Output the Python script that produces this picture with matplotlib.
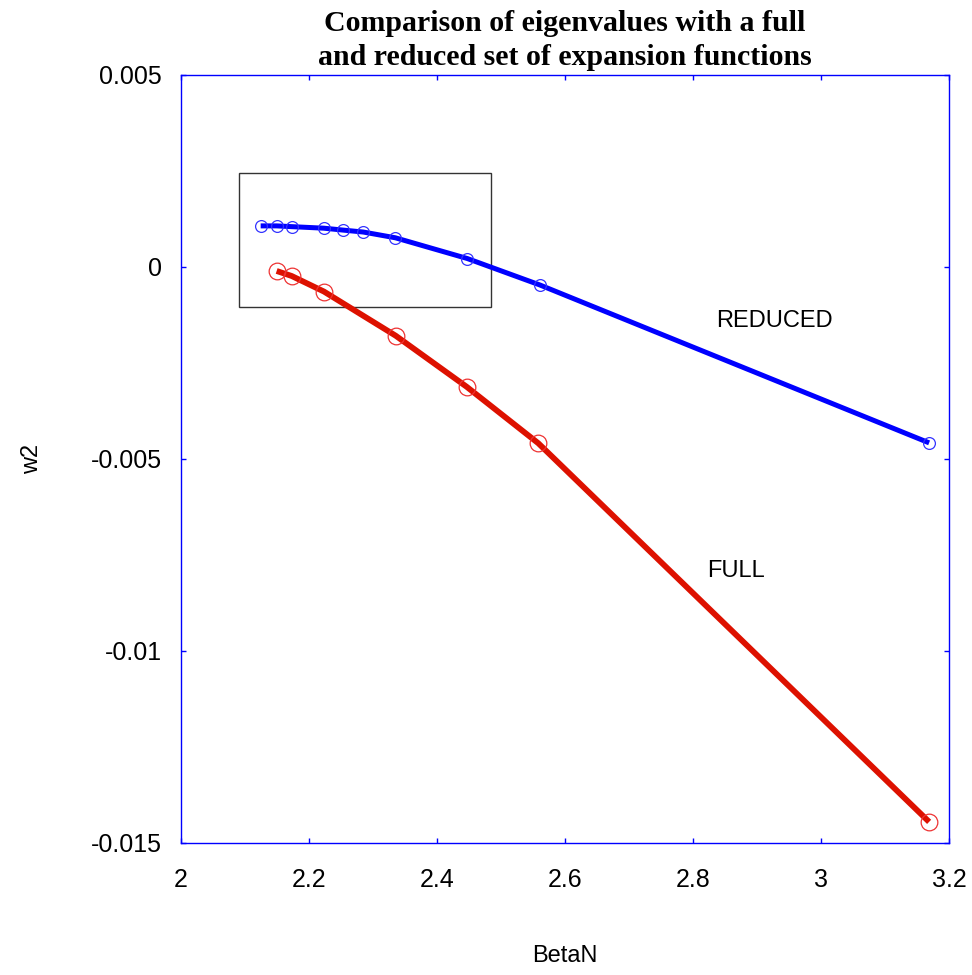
import matplotlib
matplotlib.use("Agg")
import matplotlib.pyplot as plt
from matplotlib.patches import Rectangle

plt.rcParams['font.family'] = ['Liberation Sans', 'DejaVu Sans']
plt.rcParams['axes.unicode_minus'] = False

# reduced set of expansion functions
beta_reduced = [2.1245, 2.1495, 2.1734, 2.2234, 2.2536, 2.2849, 2.335, 2.4474, 2.561, 3.169]
w2_reduced = [0.00107, 0.00107, 0.00105, 0.00101, 0.00096, 0.00091, 0.00076, 0.00022, -0.00047, -0.00458]

# full set
beta_full = [2.1495, 2.1729, 2.2234, 2.3355, 2.4464, 2.5583, 3.169]
w2_full = [-0.000104, -0.000234, -0.00064, -0.00179, -0.00312, -0.00459, -0.01445]

xticks = [2, 2.2, 2.4, 2.6, 2.8, 3, 3.2]
xticklabels = ['2', '2.2', '2.4', '2.6', '2.8', '3', '3.2']
yticks = [0.005, 0, -0.005, -0.01, -0.015]
yticklabels = ['0.005', '0', '-0.005', '-0.01', '-0.015']

fig = plt.figure(figsize=(9.72, 9.75), dpi=100)
ax = fig.add_axes([0.1862, 0.1354, 0.7901, 0.7877])

ax.plot(beta_reduced, w2_reduced, color='#0000ff', lw=3.6, solid_capstyle='butt', zorder=3)
ax.plot(beta_reduced, w2_reduced, ls='none', marker='o', ms=8.5, mfc='none',
        mec='#3333ff', mew=0.9, zorder=4)
ax.plot(beta_full, w2_full, color='#dd1100', lw=4.2, solid_capstyle='butt', zorder=3)
ax.plot(beta_full, w2_full, ls='none', marker='o', ms=12, mfc='none',
        mec='#ee3333', mew=0.9, zorder=4)

# zoom box
ax.add_patch(Rectangle((2.0906, -0.00104), 0.3934, 0.00349, fill=False,
                       ec='#333333', lw=1.0, zorder=2))

ax.text(2.928, -0.0014, 'REDUCED', fontsize=17, ha='center', va='center')
ax.text(2.867, -0.00792, 'FULL', fontsize=17, ha='center', va='center')

ax.set_xlim(2, 3.2)
ax.set_ylim(-0.015, 0.005)
ax.set_xticks(xticks)
ax.set_xticklabels(xticklabels)
ax.set_yticks(yticks)
ax.set_yticklabels(yticklabels)

for s in ax.spines.values():
    s.set_color('#0000ff')
    s.set_linewidth(1.0)
ax.tick_params(direction='in', length=3.5, width=1, color='#0000ff', labelsize=18,
               top=True, right=True)
ax.tick_params(axis='x', pad=18)
ax.tick_params(axis='y', pad=14)

ax.set_xlabel('BetaN', fontsize=17)
ax.set_ylabel('w2', fontsize=17)
ax.xaxis.set_label_coords(0.5, -0.133)
ax.yaxis.set_label_coords(-0.18, 0.5)

ax.set_title('Comparison of eigenvalues with a full\nand reduced set of expansion functions',
             fontsize=21.5, fontweight='bold', family='Liberation Serif',
             linespacing=1.33, pad=7)

plt.savefig('out.png', dpi=100)
